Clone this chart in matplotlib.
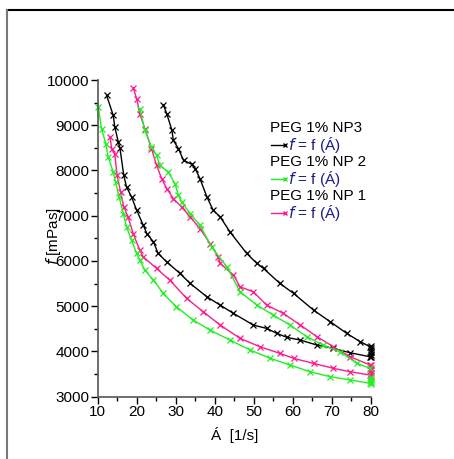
import matplotlib
matplotlib.use('Agg')
import matplotlib.pyplot as plt
from matplotlib.lines import Line2D

plt.rcParams['font.family'] = ['Liberation Sans', 'DejaVu Sans']

# PEG 1% NP3 (black) - upper and lower branches
np3_up_x = [26.8, 27.7, 29.0, 29.4, 30.7, 32.0, 34.1, 35.0, 36.2, 38.0, 39.6, 41.4, 43.9,
            48.2, 50.8, 52.5, 56.7, 60.2, 65.3, 69.6, 73.8, 77.3, 79.8]
np3_up_y = [9455, 9256, 8900, 8667, 8483, 8225, 8137, 8042, 7821, 7415, 7121, 6974, 6642,
            6166, 5945, 5834, 5503, 5283, 4914, 4656, 4400, 4214, 4104]
np3_lo_x = [12.3, 14.0, 14.4, 15.3, 15.7, 16.7, 17.4, 18.7, 20.0, 21.7, 22.6, 24.3, 25.5,
            27.7, 31.1, 33.7, 38.0, 41.4, 44.8, 49.9, 53.3, 55.9, 58.5, 61.9, 66.2, 70.4,
            74.7, 79.8]
np3_lo_y = [9660, 9219, 8960, 8630, 8505, 7894, 7636, 7415, 7121, 6790, 6607, 6422, 6166,
            5980, 5724, 5503, 5208, 5024, 4841, 4583, 4510, 4400, 4311, 4252, 4141, 4068,
            3971, 3883]
np3_hold_y = [3880, 3930, 3980, 4030, 4080, 4120]

# PEG 1% NP 2 (green)
np2_up_x = [20.8, 22.1, 23.8, 25.1, 25.9, 28.1, 29.8, 30.7, 31.5, 33.7, 36.2, 39.2,
            43.1, 46.5, 50.8, 55.0, 59.3, 63.6, 67.8, 72.1, 76.4, 79.8]
np2_up_y = [9366, 8888, 8519, 8336, 8115, 7967, 7710, 7452, 7305, 7048, 6790, 6311,
            5870, 5318, 5024, 4804, 4583, 4325, 4141, 3993, 3737, 3627]
np2_lo_x = [10.2, 11.0, 12.1, 12.7, 14.0, 14.6, 15.5, 16.6, 17.4, 18.7, 20.0,
            20.8, 22.1, 24.3, 26.8, 30.2, 34.5, 38.8, 43.9, 49.1, 54.2, 59.3, 64.4,
            69.6, 74.7, 79.8]
np2_lo_y = [9400, 8925, 8593, 8298, 7967, 7746, 7415, 7048, 6753, 6459, 6166,
            6018, 5797, 5576, 5283, 4987, 4693, 4472, 4252, 4031, 3848, 3700, 3552,
            3442, 3369, 3296]
np2_hold_y = [3280, 3330, 3380, 3430]

# PEG 1% NP 1 (pink)
np1_up_x = [19.1, 20.0, 20.8, 22.1, 23.8, 25.1, 26.4, 27.7, 29.4, 31.5, 33.7, 36.2, 38.8,
            40.9, 41.4, 44.8, 46.5, 49.9, 53.3, 57.6, 61.9, 66.2, 70.4, 74.7, 79.8]
np1_up_y = [9830, 9587, 9256, 8925, 8483, 8115, 7821, 7600, 7380, 7194, 6974, 6717, 6386,
            6090, 5945, 5687, 5428, 5318, 5024, 4841, 4583, 4325, 4104, 3883, 3700]
np1_lo_x = [13.2, 13.6, 14.4, 15.0, 15.9, 16.7, 17.8, 19.1, 20.8, 21.7, 25.1, 28.5, 32.8,
            37.1, 41.4, 46.5, 51.6, 56.7, 60.2, 65.3, 70.4, 74.7, 79.8]
np1_lo_y = [8740, 8483, 8358, 7894, 7525, 7194, 6974, 6607, 6238, 6090, 5834, 5576, 5172,
            4876, 4583, 4289, 4104, 3958, 3848, 3737, 3627, 3552, 3479]
np1_hold_y = [3460, 3520, 3580, 3640, 3700]

c_np3 = 'black'
c_np2 = '#22ee22'
c_np1 = '#ff1a8c'
navy = '#1a1a8c'

fig = plt.figure(figsize=(4.54, 4.59), dpi=100)
ax = fig.add_axes([0.215, 0.1357, 0.602, 0.6900])

def draw(xu, yu, xl, yl, hold, color):
    kw = dict(color=color, lw=1.0, marker='x', ms=4, mew=0.9)
    ax.plot(xu, yu, **kw)
    ax.plot(xl, yl, **kw)
    ax.plot([80] * len(hold), hold, **kw)

draw(np3_up_x, np3_up_y, np3_lo_x, np3_lo_y, np3_hold_y, c_np3)
draw(np1_up_x, np1_up_y, np1_lo_x, np1_lo_y, np1_hold_y, c_np1)
draw(np2_up_x, np2_up_y, np2_lo_x, np2_lo_y, np2_hold_y, c_np2)

ax.set_xlim(10, 80)
ax.set_ylim(3000, 10000)
ax.set_xticks(range(10, 81, 10))
ax.set_xticks(range(15, 80, 10), minor=True)
ax.set_yticks(range(3000, 10001, 1000))
ax.set_yticks(range(3500, 10000, 1000), minor=True)
ax.tick_params(which='major', direction='out', length=5, width=1, labelsize=11, pad=1)
ax.tick_params(which='minor', direction='out', length=3, width=1)
for s in ['top', 'right']:
    ax.spines[s].set_visible(False)
for s in ['left', 'bottom']:
    ax.spines[s].set_color('#555555')
    ax.spines[s].set_linewidth(1.2)
ax.set_clip_on(False)
for ln in ax.lines:
    ln.set_clip_on(False)

ax.set_xlabel('Á  [1/s]', fontsize=11, labelpad=6)
fig.text(0.118, 0.485, r'$f$ [mPas]', rotation=90, fontsize=11, ha='center', va='center')

# legend drawn as text
lx = 0.595
entries = [('PEG 1% NP3', c_np3, 0.721), ('PEG 1% NP 2', c_np2, 0.647), ('PEG 1% NP 1', c_np1, 0.573)]
for label, col, yy in entries:
    fig.text(lx, yy, label, fontsize=11, va='center')
    fig.text(lx + 0.04, yy - 0.037, r'$f$ = f (Á)', fontsize=11, va='center', color=navy)
    fig.add_artist(Line2D([lx + 0.003, lx + 0.033], [yy - 0.037, yy - 0.037], color=col,
                          lw=1, marker='x', ms=3.5, markevery=[1], transform=fig.transFigure))

# frame of the panel
fig.add_artist(Line2D([7 / 454, 1], [1 - 10 / 459, 1 - 10 / 459], color='black', lw=1.5,
                      transform=fig.transFigure))
fig.add_artist(Line2D([7 / 454, 7 / 454], [0, 1 - 10 / 459], color='#777777', lw=1.5,
                      transform=fig.transFigure))
fig.text(0.55, 1.0 + 0.005, 'b', fontsize=20, fontweight='bold', ha='center', va='bottom')

plt.savefig('out.png', dpi=100)
